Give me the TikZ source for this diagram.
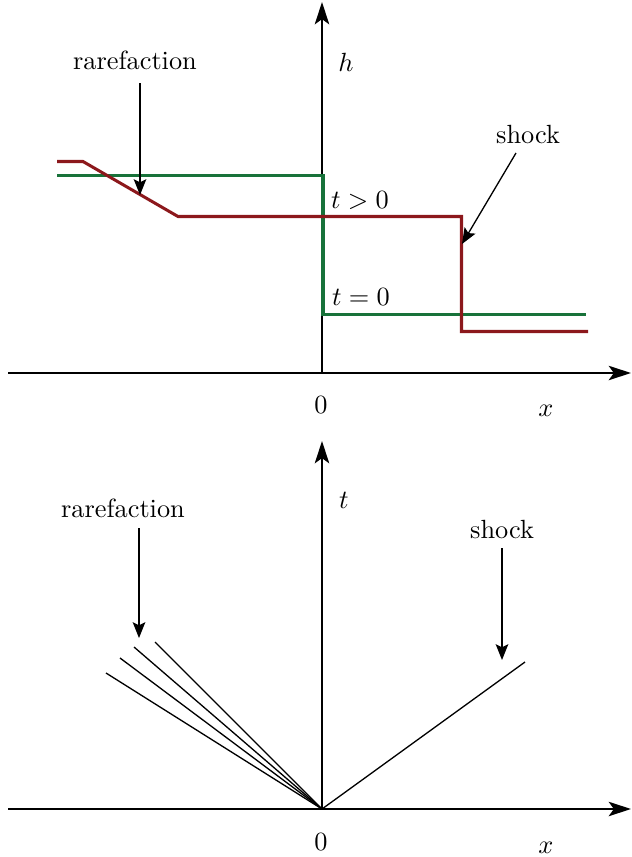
\documentclass[tikz,border=0pt]{standalone}
\usetikzlibrary{arrows.meta}
\definecolor{curvered}{RGB}{140,24,28}
\definecolor{curvegreen}{RGB}{24,114,58}
\begin{document}
\begin{tikzpicture}[x=0.38pt,y=-0.38pt,
  axis/.style={line width=0.6pt,-{Stealth[length=8.5pt,width=5.5pt,inset=2pt]}},
  pointer/.style={line width=0.5pt,-{Stealth[length=6pt,width=4.8pt,inset=1.2pt]}},
  redcurve/.style={line width=1.15pt,draw=curvered},
  greencurve/.style={line width=1.15pt,draw=curvegreen},
  fan/.style={line width=0.5pt},
  lbl/.style={inner sep=0pt}]
\useasboundingbox (0,0) rectangle (631,857);
% ---------- top plot ----------
\coordinate (xa0) at (8,373);
\coordinate (xa1) at (631,373);
\coordinate (ha0) at (322,373);
\coordinate (ha1) at (322,2);
\draw[axis] (xa0) -- (xa1);
\draw[axis] (ha0) -- (ha1);
\node[lbl] (hl) at (346,62) {$h$};
\node[lbl] (z1) at (321,405) {$0$};
\node[lbl] (x1) at (546,411) {$x$};
\draw[greencurve] (57,175.5) -- (323,175.5) -- (323,314.5) -- (586,314.5);
\draw[redcurve] (57,161.5) -- (83,161.5) -- (178,216.5) -- (461.5,216.5) -- (461.5,331.5) -- (588,331.5);
\node[lbl] (tg) at (360,201) {$t>0$};
\node[lbl] (te) at (361,297) {$t=0$};
\node[lbl] (rar1) at (135,60) {rarefaction};
\coordinate (r1a) at (140,83);
\coordinate (r1b) at (140,195);
\draw[pointer] (r1a) -- (r1b);
\node[lbl] (sh1) at (528,135) {shock};
\coordinate (s1a) at (516,153);
\coordinate (s1b) at (462,244);
\draw[pointer] (s1a) -- (s1b);
% ---------- bottom plot ----------
\coordinate (xb0) at (8,809);
\coordinate (xb1) at (631,809);
\coordinate (tb0) at (322,809);
\coordinate (tb1) at (322,441);
\draw[axis] (xb0) -- (xb1);
\draw[axis] (tb0) -- (tb1);
\node[lbl] (tl) at (344,500) {$t$};
\node[lbl] (z2) at (321,842) {$0$};
\node[lbl] (x2) at (546,848) {$x$};
\coordinate (o) at (322,809);
\coordinate (f1) at (106,673);
\coordinate (f2) at (120,658);
\coordinate (f3) at (134,647);
\coordinate (f4) at (155,642);
\coordinate (sk) at (525,662);
\draw[fan] (o) -- (f1);
\draw[fan] (o) -- (f2);
\draw[fan] (o) -- (f3);
\draw[fan] (o) -- (f4);
\draw[fan] (o) -- (sk);
\node[lbl] (rar2) at (123,508) {rarefaction};
\coordinate (r2a) at (139,528);
\coordinate (r2b) at (139,638);
\draw[pointer] (r2a) -- (r2b);
\node[lbl] (sh2) at (502,530) {shock};
\coordinate (s2a) at (502,548);
\coordinate (s2b) at (502,660);
\draw[pointer] (s2a) -- (s2b);
\end{tikzpicture}
\end{document}
